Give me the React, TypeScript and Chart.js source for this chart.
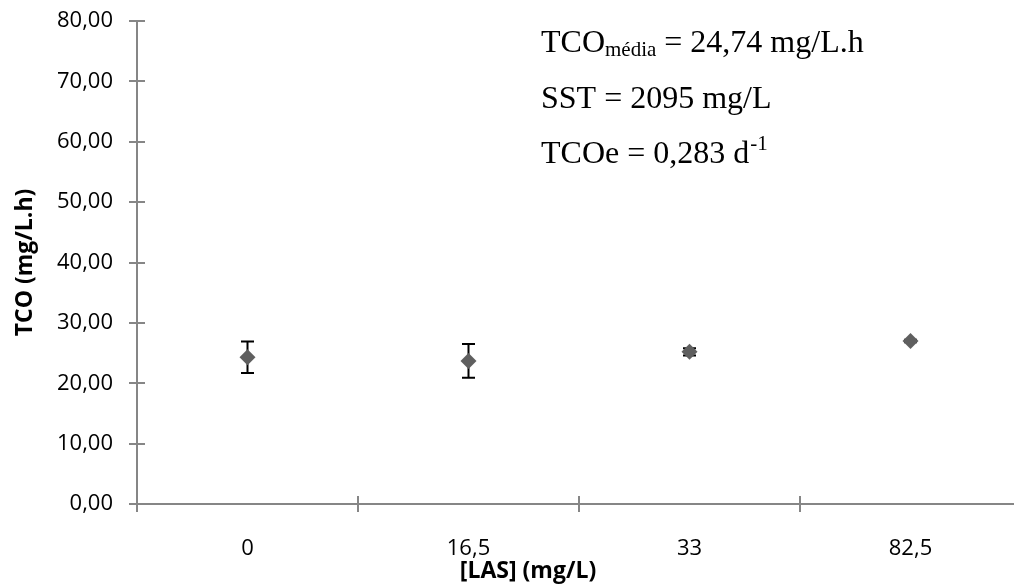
import React, { useEffect, useRef } from "react";
import { Chart, registerables } from "chart.js";

Chart.register(...registerables);

const categories = ["0", "16,5", "33", "82,5"];
const tcoMean = [24.3, 23.7, 25.2, 27.0];
const tcoError = [2.6, 2.8, 0.6, 0.2];
const yMin = 0;
const yMax = 80;
const yStep = 10;
const xTitle = "[LAS] (mg/L)";
const yTitle = "TCO (mg/L.h)";

const AXIS_COLOR = "#868686";
const TICK_FONT = "Open Sans";

const overlayPlugin = {
  id: "overlay",
  beforeDatasetsDraw(chart: any) {
    const ctx = chart.ctx;
    const xs = chart.scales.x;
    const ys = chart.scales.y;
    ctx.save();
    ctx.strokeStyle = "#000";
    ctx.lineWidth = 2;
    tcoMean.forEach((m, i) => {
      const e = tcoError[i];
      if (!e) return;
      const x = xs.getPixelForValue(i);
      const yt = ys.getPixelForValue(m + e);
      const yb = ys.getPixelForValue(m - e);
      ctx.beginPath();
      ctx.moveTo(x, yt);
      ctx.lineTo(x, yb);
      ctx.moveTo(x - 6.5, yt);
      ctx.lineTo(x + 6.5, yt);
      ctx.moveTo(x - 6.5, yb);
      ctx.lineTo(x + 6.5, yb);
      ctx.stroke();
    });
    ctx.restore();
  },
  afterDraw(chart: any) {
    const ctx = chart.ctx;
    const xs = chart.scales.x;
    const ys = chart.scales.y;
    ctx.save();
    // cross tick marks
    ctx.strokeStyle = AXIS_COLOR;
    ctx.lineWidth = 2;
    const x0 = xs.left;
    for (let v = yMin; v <= yMax; v += yStep) {
      const y = Math.round(ys.getPixelForValue(v));
      ctx.beginPath();
      ctx.moveTo(x0 - 8, y);
      ctx.lineTo(x0 + 8, y);
      ctx.stroke();
    }
    const y0 = ys.bottom;
    const w = (xs.right - xs.left) / categories.length;
    for (let i = 0; i <= categories.length; i++) {
      const x = Math.round(xs.left + i * w);
      ctx.beginPath();
      ctx.moveTo(x, y0 - 8);
      ctx.lineTo(x, y0 + 8);
      ctx.stroke();
    }
    // axis titles
    ctx.fillStyle = "#000";
    ctx.font = `bold 23px '${TICK_FONT}'`;
    ctx.textAlign = "center";
    ctx.textBaseline = "middle";
    ctx.fillText(xTitle, 528, 571);
    ctx.save();
    ctx.translate(25, (ys.top + ys.bottom) / 2);
    ctx.rotate(-Math.PI / 2);
    ctx.fillText(yTitle, 0, 0);
    ctx.restore();
    // annotation
    ctx.textAlign = "left";
    ctx.textBaseline = "alphabetic";
    const big = "32px 'Liberation Serif'";
    const small = "21px 'Liberation Serif'";
    let x = 541;
    ctx.font = big;
    ctx.fillText("TCO", x, 52);
    x += ctx.measureText("TCO").width;
    ctx.font = small;
    ctx.fillText("média", x, 56);
    x += ctx.measureText("média").width;
    ctx.font = big;
    ctx.fillText(" = 24,74 mg/L.h", x, 52);
    ctx.fillText("SST = 2095 mg/L", 541, 108);
    ctx.fillText("TCOe = 0,283 d", 541, 163);
    const w3 = ctx.measureText("TCOe = 0,283 d").width;
    ctx.font = small;
    ctx.fillText("-1", 541 + w3 + 1, 150);
    ctx.restore();
  },
};

export default function App() {
  const ref = useRef<HTMLCanvasElement | null>(null);
  useEffect(() => {
    if (!ref.current) return;
    const chart = new Chart(ref.current, {
      type: "line",
      data: {
        labels: categories,
        datasets: [
          {
            data: tcoMean,
            showLine: false,
            pointStyle: "rectRot",
            pointRadius: 8,
            pointHoverRadius: 8,
            backgroundColor: "#5f5f5f",
            borderColor: "#5f5f5f",
            borderWidth: 0,
          },
        ],
      },
      options: {
        responsive: false,
        animation: false,
        events: [],
        layout: { padding: { top: 21, right: 19, left: 0, bottom: 0 } },
        plugins: { legend: { display: false }, tooltip: { enabled: false } },
        scales: {
          x: {
            type: "category",
            offset: true,
            grid: { display: false, drawTicks: false },
            border: { display: true, color: AXIS_COLOR, width: 2 },
            ticks: {
              color: "#000",
              font: { family: TICK_FONT, size: 22 },
              padding: 32,
              maxRotation: 0,
            },
            afterFit(scale: any) {
              scale.height = 80;
              scale.paddingLeft = 0;
              scale.paddingRight = 0;
            },
          },
          y: {
            min: yMin,
            max: yMax,
            grid: { display: false, drawTicks: false },
            border: { display: true, color: AXIS_COLOR, width: 2 },
            ticks: {
              stepSize: yStep,
              color: "#000",
              font: { family: TICK_FONT, size: 22 },
              padding: 24,
              callback: (v: any) => Number(v).toFixed(2).replace(".", ","),
            },
            afterFit(scale: any) {
              scale.width = 137;
              scale.paddingTop = 0;
              scale.paddingBottom = 0;
            },
          },
        },
      },
      plugins: [overlayPlugin],
    });
    return () => chart.destroy();
  }, []);
  return (
    <div
      style={{
        position: "fixed",
        left: 0,
        top: 0,
        width: 1014,
        height: 584,
        overflow: "hidden",
        background: "#fff",
      }}
    >
      <canvas
        ref={ref}
        width={1040}
        height={584}
        style={{ position: "absolute", left: 0, top: 0, width: 1040, height: 584 }}
      />
    </div>
  );
}
